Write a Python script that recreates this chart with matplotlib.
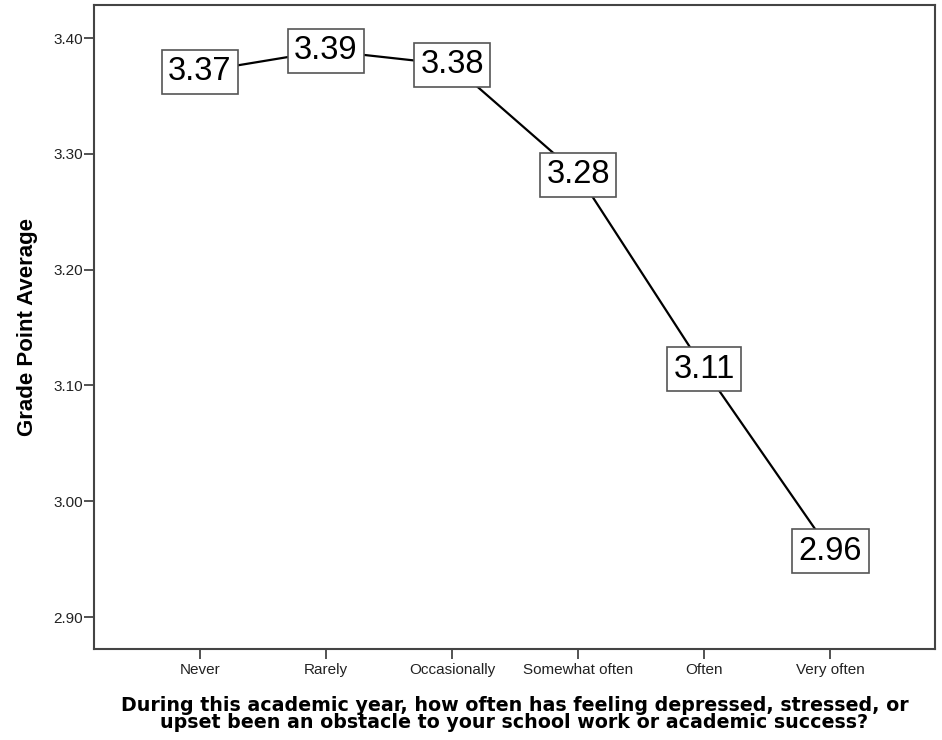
import matplotlib.pyplot as plt
import numpy as np

# data
categories = ['Never', 'Rarely', 'Occasionally', 'Somewhat often', 'Often', 'Very often']
gpa = [3.371, 3.389, 3.377, 3.282, 3.114, 2.957]
y_ticks = [2.90, 3.00, 3.10, 3.20, 3.30, 3.40]

x_title = ('During this academic year, how often has feeling depressed, stressed, or\n'
           'upset been an obstacle to your school work or academic success?')
y_title = 'Grade Point Average'

fig = plt.figure(figsize=(9.42, 7.40), dpi=100)
ax = fig.add_axes([94 / 942, 91 / 740, 841 / 942, 644 / 740])

x = np.arange(len(categories))
ax.plot(x, gpa, color='black', linewidth=1.6, zorder=2)

for xi, val in zip(x, gpa):
    ax.text(xi, val, f'{val:.2f}', ha='center', va='center', fontsize=23.5,
            family='Liberation Sans', zorder=3,
            bbox=dict(boxstyle='square,pad=0.2', facecolor='white',
                      edgecolor='#555555', linewidth=1.2))

ax.set_xlim(-0.84, 5.83)
ax.set_ylim(2.8724, 3.4285)
ax.set_xticks(x)
ax.set_xticklabels(categories, family='Liberation Sans', fontsize=11, color='#222222')
ax.set_yticks(y_ticks)
ax.set_yticklabels([f'{t:.2f}' for t in y_ticks], family='Liberation Sans',
                   fontsize=11, color='#222222')
ax.tick_params(axis='both', length=7, width=1.3, color='#444444')
ax.tick_params(axis='y', pad=1)
ax.tick_params(axis='x', pad=3)

for sp in ax.spines.values():
    sp.set_color('#444444')
    sp.set_linewidth(1.5)

ax.set_ylabel(y_title, family='Liberation Sans', fontweight='bold', fontsize=16, labelpad=11)
ax.set_xlabel(x_title, family='DejaVu Sans', fontweight='bold', fontsize=13.7,
              linespacing=0.85, labelpad=14)

fig.savefig('out.png', dpi=100)
